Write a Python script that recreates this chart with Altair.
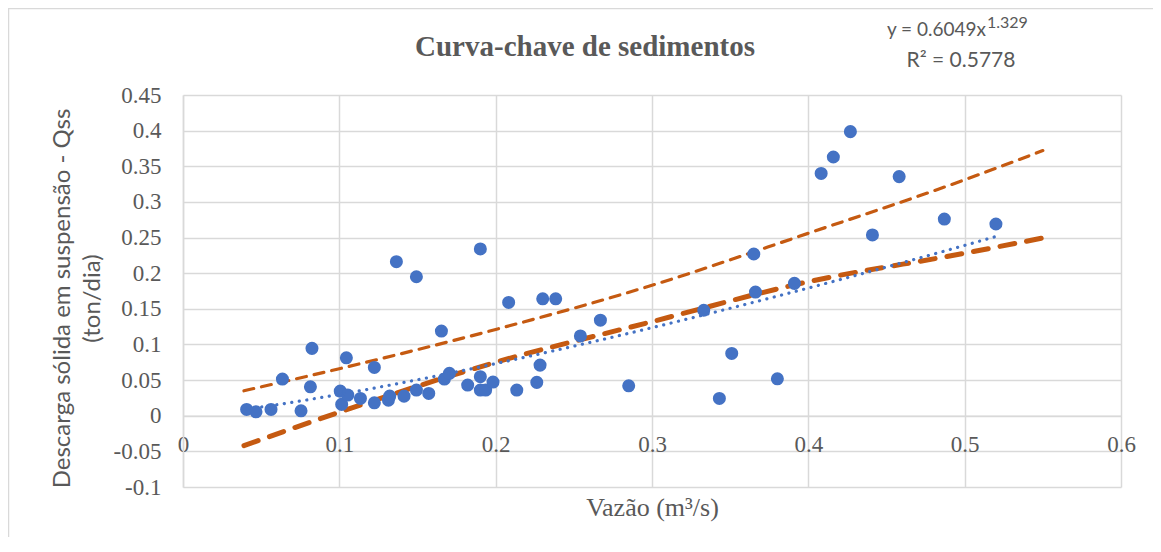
import altair as alt
import pandas as pd

# Scatter data (Vazão m3/s, Qss ton/dia)
q = [0.0407, 0.0467, 0.0563, 0.0636, 0.0755, 0.0825, 0.0815, 0.1006, 0.1015, 0.1045,
     0.1054, 0.1135, 0.1224, 0.1224, 0.1314, 0.1322, 0.1365, 0.1414, 0.1493, 0.1493,
     0.1572, 0.1653, 0.1672, 0.1704, 0.1821, 0.1902, 0.1902, 0.1936, 0.1983, 0.1902,
     0.2083, 0.2135, 0.2263, 0.2284, 0.2301, 0.2384, 0.2542, 0.2670, 0.2851, 0.3331,
     0.3431, 0.3510, 0.3651, 0.3662, 0.3802, 0.3911, 0.4082, 0.4160, 0.4269, 0.4410,
     0.4581, 0.4870, 0.5200]
qss = [0.0088, 0.0055, 0.0088, 0.0514, 0.0069, 0.0945, 0.0406, 0.0345, 0.0159, 0.0813,
       0.0290, 0.0243, 0.0678, 0.0181, 0.0219, 0.0275, 0.2161, 0.0275, 0.1950, 0.0360,
       0.0313, 0.1188, 0.0514, 0.0594, 0.0430, 0.0548, 0.0360, 0.0360, 0.0472, 0.2340,
       0.1590, 0.0360, 0.0468, 0.0710, 0.1640, 0.1640, 0.1120, 0.1340, 0.0420, 0.1480,
       0.0243, 0.0874, 0.2269, 0.1735, 0.0518, 0.1857, 0.3400, 0.3630, 0.3986, 0.2536,
       0.3355, 0.2760, 0.2690]

# Upper (thin dashed) and lower (thick dashed) curves
upper_x = [0.039, 0.1, 0.2, 0.3, 0.4, 0.5, 0.55]
upper_y = [0.035, 0.066, 0.121, 0.183, 0.256, 0.331, 0.372]
lower_x = [0.039, 0.1, 0.2, 0.3, 0.4, 0.5, 0.549]
lower_y = [-0.042, 0.005, 0.075, 0.132, 0.188, 0.228, 0.249]

x_ticks = [0, 0.1, 0.2, 0.3, 0.4, 0.5, 0.6]
y_ticks = [-0.1, -0.05, 0, 0.05, 0.1, 0.15, 0.2, 0.25, 0.3, 0.35, 0.4, 0.45]

title_text = "Curva-chave de sedimentos"
eq_text = "y = 0.6049x"
eq_exp = "1.329"
r2_text = "R² = 0.5778"
x_title = "Vazão (m³/s)"
y_title = ["Descarga sólida em suspensão - Qss", "(ton/dia)"]

W, H = 938, 392
GRAY = "#595959"
GRID = "#d9d9d9"
BLUE = "#4472C4"
ORANGE = "#C55A11"
SERIF = "Liberation Serif"
SANS = "Lato"

pts = pd.DataFrame({"q": q, "qss": qss})
up = pd.DataFrame({"q": upper_x, "qss": upper_y})
lo = pd.DataFrame({"q": lower_x, "qss": lower_y})

xs = alt.Scale(domain=[0, 0.6], nice=False, zero=False)
ys = alt.Scale(domain=[-0.1, 0.45], nice=False, zero=False)

xaxis = alt.Axis(values=x_ticks, title=x_title, offset=-71.27,
                 labelExpr="format(datum.value, '.1~f')",
                 grid=True, gridColor=GRID, gridWidth=1.5,
                 domainColor=GRID, domainWidth=1.5, ticks=False,
                 labelFont=SERIF, labelFontSize=23, labelColor=GRAY,
                 labelPadding=18, labelFlush=False, labelOverlap=False,
                 titleFont=SERIF, titleFontSize=26, titleFontWeight="normal",
                 titleColor=GRAY, titleX=469, titleY=92, titleBaseline="middle")
yaxis = alt.Axis(values=y_ticks, title=y_title,
                 labelExpr="datum.value < 0 ? '-' + format(-datum.value, '.2~f') : format(datum.value, '.2~f')",
                 grid=True, gridColor=GRID, gridWidth=1.5,
                 domainColor=GRID, domainWidth=1.5, ticks=False,
                 labelFont=SERIF, labelFontSize=23, labelColor=GRAY,
                 labelPadding=22, labelFlush=False, labelOverlap=False,
                 titleFont=SANS, titleFontSize=24, titleFontWeight="normal",
                 titleColor=GRAY, titleX=-121, titleY=203, titleAngle=270,
                 titleBaseline="middle", titleAlign="center", titleLineHeight=30)

X = alt.X("q:Q", scale=xs, axis=xaxis)
Y = alt.Y("qss:Q", scale=ys, axis=yaxis)

upper = alt.Chart(up).mark_line(color=ORANGE, strokeWidth=3.2, strokeDash=[10, 8],
                                strokeCap="round", interpolate="monotone").encode(x=X, y=Y)
lower = alt.Chart(lo).mark_line(color=ORANGE, strokeWidth=5, strokeDash=[15, 12],
                                strokeCap="round", interpolate="monotone").encode(x=X, y=Y)
points = alt.Chart(pts).mark_circle(size=170, color=BLUE, opacity=1).encode(x=X, y=Y)
trend = alt.Chart(pts).transform_regression("q", "qss", method="pow").mark_line(
    color=BLUE, strokeWidth=3.2, strokeDash=[0.1, 7.5], strokeCap="round").encode(x=X, y=Y)

one = alt.Data(values=[{}])
title = alt.Chart(one).mark_text(text=title_text, font=SERIF, fontSize=29,
                                 fontWeight="bold", color=GRAY, align="center",
                                 baseline="middle").encode(x=alt.value(402), y=alt.value(-48))
eq = alt.Chart(one).mark_text(text=eq_text, font=SANS, fontSize=19, color=GRAY,
                              align="right", baseline="middle").encode(x=alt.value(803), y=alt.value(-65))
eq2 = alt.Chart(one).mark_text(text=eq_exp, font=SANS, fontSize=16, color=GRAY,
                               align="left", baseline="middle").encode(x=alt.value(804), y=alt.value(-72))
r2 = alt.Chart(one).mark_text(text=r2_text, font=SANS, fontSize=21, color=GRAY,
                              align="center", baseline="middle").encode(x=alt.value(778), y=alt.value(-34))
border_top = alt.Chart(one).mark_rule(color=GRID, strokeWidth=1.5).encode(
    x=alt.value(-175), x2=alt.value(W + 40), y=alt.value(-86.5))
border_left = alt.Chart(one).mark_rule(color=GRID, strokeWidth=1.5).encode(
    x=alt.value(-174.5), y=alt.value(-87), y2=alt.value(H + 60))

chart = alt.layer(upper, lower, points, trend, title, eq, eq2, r2, border_top, border_left).properties(
    width=W, height=H,
    padding={"left": 175, "top": 87, "right": 32, "bottom": 50},
    autosize=alt.AutoSizeParams(type="none"),
    background="white",
).configure_view(strokeWidth=0).configure_axis(
    labelFont=SERIF, titleFont=SERIF
).configure_axisY(titleFont=SANS)

chart.save("out.html", embed_options={"renderer": "svg", "actions": False})
